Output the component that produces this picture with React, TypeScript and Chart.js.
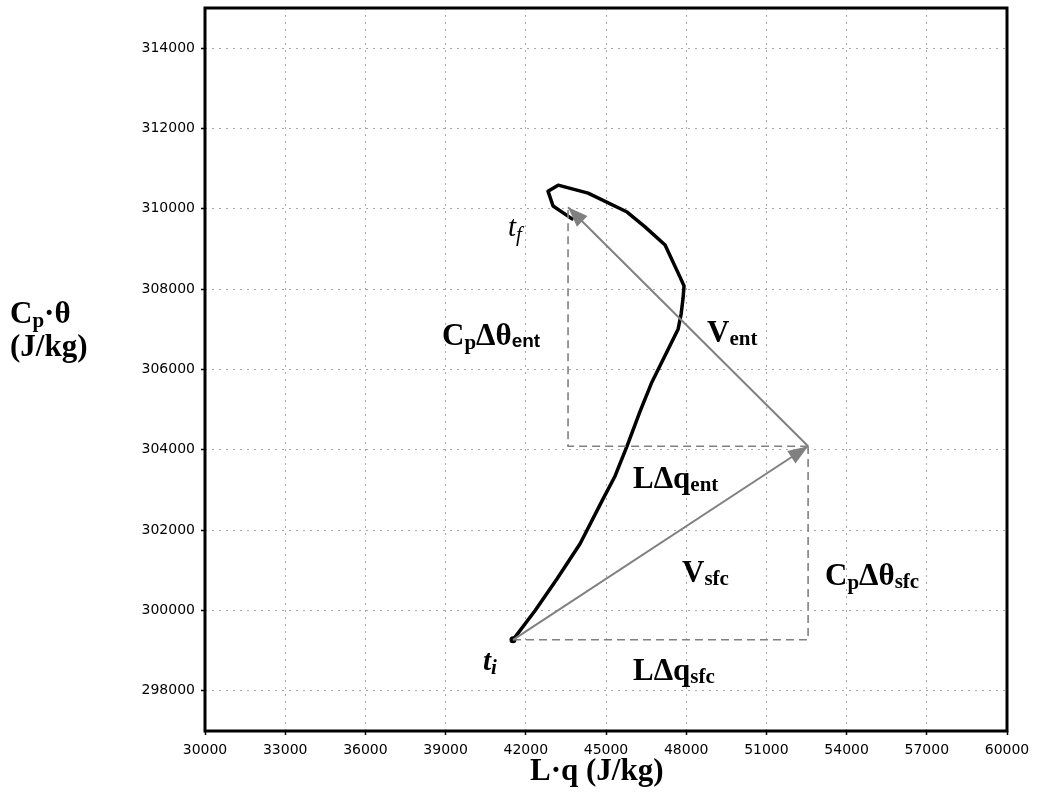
import React, { useEffect, useRef } from 'react';
import { Chart, registerables } from 'chart.js';

Chart.register(...registerables);

// Axis tick values
const xTicks = [30000, 33000, 36000, 39000, 42000, 45000, 48000, 51000, 54000, 57000, 60000];
const yTicks = [298000, 300000, 302000, 304000, 306000, 308000, 310000, 312000, 314000];

// Mixing-diagram trajectory from t_i (first point) to t_f (last point)
const pathLq = [
  41520, 42350, 43170, 44030, 44890, 45340, 45790, 46270, 46720, 47280, 47700, 47810,
  47880, 47920, 47770, 47210, 46460, 45790, 44330, 43210, 42830, 43020, 43730,
];
const pathCpTheta = [
  299270, 300000, 300790, 301660, 302780, 303350, 304100, 304950, 305690, 306440, 307010, 307380,
  307760, 308080, 308300, 309100, 309550, 309920, 310390, 310590, 310440, 310070, 309750,
];

// Surface-flux vector and its components
const vsfcX = [41520, 52560];
const vsfcY = [299270, 304090];
const sfcLegsX = [41520, 52560, 52560];
const sfcLegsY = [299270, 299270, 304090];

// Entrainment-flux vector and its components
const ventX = [52560, 43580];
const ventY = [304090, 310040];
const entLegsX = [52560, 43580, 43580];
const entLegsY = [304090, 304090, 310040];

const toPoints = (xs: number[], ys: number[]) => xs.map((x, i) => ({ x, y: ys[i] }));

type Run = { text: string; size: number; style?: string; family?: string; dy?: number };

const SERIF = '"Liberation Serif", "Times New Roman", serif';
const SANS = '"Liberation Sans", Arial, sans-serif';
const BIG = 31;
const SUB = 21;

const labels: { x: number; y: number; runs: Run[] }[] = [
  { x: 10, y: 323, runs: [{ text: 'C', size: BIG }, { text: 'p', size: SUB, dy: 4 }, { text: '·θ', size: BIG }] },
  { x: 10, y: 356, runs: [{ text: '(J/kg)', size: BIG }] },
  { x: 530, y: 780, runs: [{ text: 'L·q (J/kg)', size: BIG }] },
  {
    x: 508, y: 236,
    runs: [{ text: 't', size: 29, style: 'italic' }, { text: 'f', size: 21, style: 'italic', dy: 5 }],
  },
  {
    x: 483, y: 670,
    runs: [{ text: 't', size: 29, style: 'italic bold' }, { text: 'i', size: 21, style: 'italic bold', dy: 4 }],
  },
  {
    x: 442, y: 345,
    runs: [
      { text: 'C', size: BIG }, { text: 'p', size: SUB, dy: 4 }, { text: 'Δθ', size: BIG },
      { text: 'ent', size: 19, family: SANS, dy: 2 },
    ],
  },
  { x: 707, y: 342, runs: [{ text: 'V', size: BIG }, { text: 'ent', size: SUB, dy: 3 }] },
  { x: 633, y: 488, runs: [{ text: 'LΔq', size: BIG }, { text: 'ent', size: SUB, dy: 3 }] },
  { x: 682, y: 582, runs: [{ text: 'V', size: BIG }, { text: 'sfc', size: SUB, dy: 3 }] },
  {
    x: 825, y: 585,
    runs: [{ text: 'C', size: BIG }, { text: 'p', size: SUB, dy: 4 }, { text: 'Δθ', size: BIG }, { text: 'sfc', size: SUB, dy: 3 }],
  },
  { x: 633, y: 680, runs: [{ text: 'LΔq', size: BIG }, { text: 'sfc', size: SUB, dy: 3 }] },
];

function drawRuns(ctx: CanvasRenderingContext2D, x: number, y: number, runs: Run[]) {
  let cx = x;
  for (const r of runs) {
    ctx.font = `${r.style ?? 'bold'} ${r.size}px ${r.family ?? SERIF}`;
    ctx.fillText(r.text, cx, y + (r.dy ?? 0));
    cx += ctx.measureText(r.text).width;
  }
}

const VECTOR_GRAY = '#808080';

const decorations = {
  id: 'decorations',
  afterDatasetsDraw(chart: any) {
    const { ctx, scales } = chart;
    const xs = scales.x;
    const ys = scales.y;
    const heads = [
      [vsfcX, vsfcY],
      [ventX, ventY],
    ];
    ctx.save();
    ctx.fillStyle = VECTOR_GRAY;
    for (const [hx, hy] of heads) {
      const n = hx.length;
      const x1 = xs.getPixelForValue(hx[n - 2]);
      const y1 = ys.getPixelForValue(hy[n - 2]);
      const x2 = xs.getPixelForValue(hx[n - 1]);
      const y2 = ys.getPixelForValue(hy[n - 1]);
      const a = Math.atan2(y2 - y1, x2 - x1);
      const len = 20;
      const half = 7.5;
      const bx = x2 - len * Math.cos(a);
      const by = y2 - len * Math.sin(a);
      ctx.beginPath();
      ctx.moveTo(x2, y2);
      ctx.lineTo(bx + half * Math.sin(a), by - half * Math.cos(a));
      ctx.lineTo(bx - half * Math.sin(a), by + half * Math.cos(a));
      ctx.closePath();
      ctx.fill();
    }
    ctx.restore();
  },
  afterDraw(chart: any) {
    const { ctx, chartArea } = chart;
    ctx.save();
    ctx.strokeStyle = '#000';
    ctx.lineWidth = 3;
    ctx.strokeRect(chartArea.left, chartArea.top, chartArea.right - chartArea.left, chartArea.bottom - chartArea.top);
    ctx.fillStyle = '#000';
    ctx.textBaseline = 'alphabetic';
    ctx.textAlign = 'left';
    for (const l of labels) drawRuns(ctx, l.x, l.y, l.runs);
    ctx.restore();
  },
};

export default function App() {
  const canvasRef = useRef<HTMLCanvasElement | null>(null);

  useEffect(() => {
    if (!canvasRef.current) return;
    const tickFont = { family: '"DejaVu Sans", sans-serif', size: 14 };
    const chart = new Chart(canvasRef.current, {
      type: 'scatter',
      data: {
        datasets: [
          {
            data: toPoints(sfcLegsX, sfcLegsY),
            showLine: true,
            borderColor: VECTOR_GRAY,
            borderWidth: 1.6,
            borderDash: [8, 5],
            pointRadius: 0,
          },
          {
            data: toPoints(entLegsX, entLegsY),
            showLine: true,
            borderColor: VECTOR_GRAY,
            borderWidth: 1.6,
            borderDash: [8, 5],
            pointRadius: 0,
          },
          {
            data: toPoints(vsfcX, vsfcY),
            showLine: true,
            borderColor: VECTOR_GRAY,
            borderWidth: 2,
            pointRadius: 0,
          },
          {
            data: toPoints(ventX, ventY),
            showLine: true,
            borderColor: VECTOR_GRAY,
            borderWidth: 2,
            pointRadius: 0,
          },
          {
            data: toPoints(pathLq, pathCpTheta),
            showLine: true,
            borderColor: '#000',
            borderWidth: 3.5,
            borderJoinStyle: 'round',
            borderCapStyle: 'round',
            tension: 0,
            pointRadius: (c: any) => (c.dataIndex === 0 ? 3.5 : 0),
            pointBackgroundColor: '#000',
            pointBorderWidth: 0,
          },
        ],
      },
      options: {
        animation: false,
        responsive: false,
        devicePixelRatio: 1,
        layout: { padding: { left: 0, right: 30, top: 8, bottom: 0 } },
        plugins: { legend: { display: false }, tooltip: { enabled: false } },
        scales: {
          x: {
            type: 'linear',
            min: 30000,
            max: 60000,
            afterBuildTicks: (s: any) => {
              s.ticks = xTicks.map((value) => ({ value }));
            },
            afterFit: (s: any) => {
              s.height = 81;
              s.paddingLeft = 0;
              s.paddingRight = 0;
            },
            grid: { color: '#a8a8a8', lineWidth: 1, tickLength: 4, tickColor: '#000', tickWidth: 1.5 },
            border: { display: false, dash: [2, 5] },
            ticks: {
              color: '#000',
              font: tickFont,
              padding: 7,
              maxRotation: 0,
              autoSkip: false,
              callback: (v: any) => String(v),
            },
          },
          y: {
            type: 'linear',
            min: 297000,
            max: 315000,
            afterBuildTicks: (s: any) => {
              s.ticks = yTicks.map((value) => ({ value }));
            },
            afterFit: (s: any) => {
              s.width = 205;
              s.paddingTop = 0;
              s.paddingBottom = 0;
            },
            grid: { color: '#a8a8a8', lineWidth: 1, tickLength: 4, tickColor: '#000', tickWidth: 1.5 },
            border: { display: false, dash: [2, 5] },
            ticks: {
              color: '#000',
              font: tickFont,
              padding: 6,
              autoSkip: false,
              callback: (v: any) => String(v),
            },
          },
        },
      },
      plugins: [decorations],
    } as any);
    return () => chart.destroy();
  }, []);

  return (
    <div style={{ position: 'fixed', left: 0, top: 0, width: 1037, height: 812, background: '#fff' }}>
      <canvas ref={canvasRef} width={1037} height={812} style={{ display: 'block' }} />
    </div>
  );
}
